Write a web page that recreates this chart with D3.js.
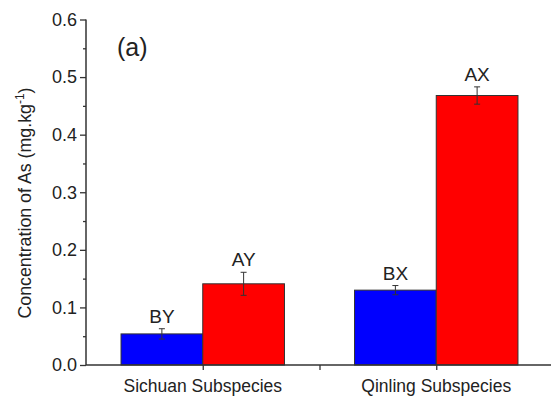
<!DOCTYPE html>
<html><head><meta charset="utf-8">
<script src="https://cdn.jsdelivr.net/npm/d3@7"></script>
<style>body{margin:0;background:#fff}svg{display:block}text{font-family:"Liberation Sans",Arial,sans-serif;fill:#222}</style>
</head><body><svg id="c" width="551" height="403"></svg>
<script>
const categories = ["Sichuan Subspecies", "Qinling Subspecies"];
const seriesBlue = [0.054, 0.130];
const seriesRed = [0.141, 0.468];
const errBlue = [0.009, 0.008];
const errRed = [0.020, 0.015];
const labelsBlue = ["BY", "BX"];
const labelsRed = ["AY", "AX"];
const yTicks = [0.0, 0.1, 0.2, 0.3, 0.4, 0.5, 0.6];

const svg = d3.select("#c");
const x = d3.scaleLinear().domain([0, 4]).range([86, 553]);
const y = d3.scaleLinear().domain([0, 0.6]).range([365, 19.5]);
const bw = 0.7;

const bars = [];
categories.forEach((c, i) => {
  const cx = 1 + 2 * i;
  bars.push({x0: cx - bw, x1: cx, v: seriesBlue[i], e: errBlue[i], lab: labelsBlue[i], col: "#0000ff"});
  bars.push({x0: cx, x1: cx + bw, v: seriesRed[i], e: errRed[i], lab: labelsRed[i], col: "#ff0000"});
});

svg.selectAll("rect.bar").data(bars).enter().append("rect")
  .attr("x", d => x(d.x0)).attr("width", d => x(d.x1) - x(d.x0))
  .attr("y", d => y(d.v)).attr("height", d => y(0) - y(d.v))
  .attr("fill", d => d.col).attr("stroke", "#333").attr("stroke-width", 1);

// error bars
const eb = svg.selectAll("g.eb").data(bars).enter().append("g").attr("stroke", "#333").attr("stroke-width", 1);
eb.append("line").attr("x1", d => x((d.x0 + d.x1) / 2)).attr("x2", d => x((d.x0 + d.x1) / 2))
  .attr("y1", d => y(d.v + d.e)).attr("y2", d => y(d.v - d.e));
eb.append("line").attr("x1", d => x((d.x0 + d.x1) / 2) - 3).attr("x2", d => x((d.x0 + d.x1) / 2) + 3)
  .attr("y1", d => y(d.v + d.e)).attr("y2", d => y(d.v + d.e));
eb.append("line").attr("x1", d => x((d.x0 + d.x1) / 2) - 3).attr("x2", d => x((d.x0 + d.x1) / 2) + 3)
  .attr("y1", d => y(d.v - d.e)).attr("y2", d => y(d.v - d.e));

svg.selectAll("text.lab").data(bars).enter().append("text")
  .attr("x", d => x((d.x0 + d.x1) / 2)).attr("y", d => y(d.v + d.e) - 6)
  .attr("text-anchor", "middle").attr("font-size", 19).text(d => d.lab);

// axes
const yAxis = d3.axisLeft(y).tickValues(yTicks).tickFormat(d3.format(".1f")).tickSize(6).tickPadding(3);
const gy = svg.append("g").attr("transform", "translate(86,0)").call(yAxis);
gy.select(".domain").remove();
gy.selectAll("line").attr("stroke", "#333").attr("stroke-width", 1.3);
gy.selectAll("text").attr("font-size", 18).attr("fill", "#222").attr("font-family", "Liberation Sans, Arial, sans-serif");
const yMinor = d3.axisLeft(y).tickValues(d3.range(0.05, 0.6, 0.1)).tickFormat("").tickSize(3);
const gym = svg.append("g").attr("transform", "translate(86,0)").call(yMinor);
gym.select(".domain").remove();
gym.selectAll("line").attr("stroke", "#333").attr("stroke-width", 1.3);

svg.append("line").attr("x1", 86).attr("x2", 86).attr("y1", y(0.6)).attr("y2", y(0)).attr("stroke", "#333").attr("stroke-width", 1.5);

const xAxis = d3.axisBottom(x).tickValues([1, 2, 3, 4]).tickFormat("").tickSize(5);
const gx = svg.append("g").attr("transform", `translate(0,${y(0)})`).call(xAxis);
gx.select(".domain").remove();
gx.selectAll("line").attr("stroke", "#333").attr("stroke-width", 1.3);
svg.append("line").attr("x1", 86).attr("x2", 553).attr("y1", y(0)).attr("y2", y(0)).attr("stroke", "#333").attr("stroke-width", 1.5);

svg.selectAll("text.cat").data(categories).enter().append("text")
  .attr("x", (d, i) => x(1 + 2 * i)).attr("y", 392)
  .attr("text-anchor", "middle").attr("font-size", 17.5).text(d => d);

// panel label
svg.append("text").attr("x", 117).attr("y", 56).attr("font-size", 25).text("(a)");

// y title
const yt = svg.append("text").attr("transform", "translate(31,203) rotate(-90)")
  .attr("text-anchor", "middle").attr("font-size", 17.8);
yt.append("tspan").text("Concentration of As (mg.kg");
yt.append("tspan").attr("dy", -7).attr("font-size", 12).text("-1");
yt.append("tspan").attr("dy", 7).text(")");
</script></body></html>
